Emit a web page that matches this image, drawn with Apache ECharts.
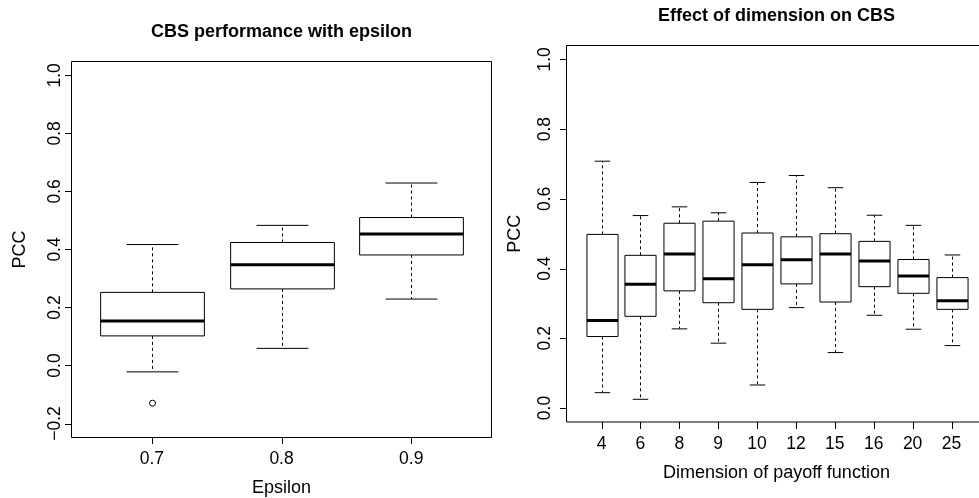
<!DOCTYPE html>
<html>
<head>
<meta charset="utf-8">
<script src="https://cdn.jsdelivr.net/npm/echarts@6/dist/echarts.min.js"></script>
<style>
html,body{margin:0;padding:0;background:#fff;overflow:hidden;}
#chart{width:979px;height:498px;}
</style>
</head>
<body>
<div id="chart"></div>
<script>
// ---- Left panel: CBS performance with epsilon ----
const epsCategories = ['0.7', '0.8', '0.9'];
const epsMin    = [-0.022, 0.059, 0.229];
const epsQ1     = [0.102, 0.264, 0.381];
const epsMedian = [0.153, 0.347, 0.453];
const epsQ3     = [0.252, 0.424, 0.510];
const epsMax    = [0.417, 0.483, 0.629];
const epsOutlierCat = [0];
const epsOutlierVal = [-0.13];
const epsYTicks = [-0.2, 0.0, 0.2, 0.4, 0.6, 0.8, 1.0];

// ---- Right panel: Effect of dimension on CBS ----
const dimCategories = ['4', '6', '8', '9', '10', '12', '15', '16', '20', '25'];
const dimMin    = [0.044, 0.025, 0.227, 0.186, 0.066, 0.288, 0.159, 0.266, 0.226, 0.179];
const dimQ1     = [0.205, 0.263, 0.336, 0.302, 0.283, 0.356, 0.304, 0.348, 0.329, 0.283];
const dimMedian = [0.251, 0.355, 0.442, 0.371, 0.411, 0.425, 0.442, 0.422, 0.379, 0.308];
const dimQ3     = [0.498, 0.438, 0.530, 0.536, 0.502, 0.491, 0.500, 0.478, 0.426, 0.374];
const dimMax    = [0.708, 0.552, 0.577, 0.560, 0.647, 0.667, 0.632, 0.553, 0.524, 0.439];
const dimYTicks = [0.0, 0.2, 0.4, 0.6, 0.8, 1.0];

// R-style extended plot ranges (4% beyond the tick range)
const epsXRange = [0.38, 3.62], epsYRange = [-0.248, 1.048];
const dimXRange = [0.1, 10.9],  dimYRange = [-0.04, 1.04];

const FONT = '"Liberation Sans", Arial, Helvetica, sans-serif';
const TICK_LEN = 7;

function boxData(mins, q1, med, q3, maxs) {
  return mins.map((m, i) => [i + 1, m, q1[i], med[i], q3[i], maxs[i]]);
}
function fmtNum(v) {
  return (Math.round(v * 10) / 10).toFixed(1).replace('-', '\u2212');
}
function renderBox(params, api) {
  const x = api.value(0);
  const lo = api.coord([x, api.value(1)]);
  const q1 = api.coord([x, api.value(2)]);
  const md = api.coord([x, api.value(3)]);
  const q3 = api.coord([x, api.value(4)]);
  const hi = api.coord([x, api.value(5)]);
  const bw = api.size([0.8, 0])[0];
  const cx = Math.round(lo[0]) + 0.5;
  const half = bw / 2, cap = bw / 4;
  const solid = {stroke: '#000', lineWidth: 1, fill: null};
  const dashed = {stroke: '#000', lineWidth: 1, lineDash: [3, 3], fill: null};
  return {
    type: 'group',
    children: [
      {type: 'line', shape: {x1: cx, y1: q3[1], x2: cx, y2: hi[1]}, style: dashed},
      {type: 'line', shape: {x1: cx, y1: q1[1], x2: cx, y2: lo[1]}, style: dashed},
      {type: 'line', shape: {x1: cx - cap, y1: hi[1], x2: cx + cap, y2: hi[1]}, style: solid},
      {type: 'line', shape: {x1: cx - cap, y1: lo[1], x2: cx + cap, y2: lo[1]}, style: solid},
      {type: 'rect', shape: {x: cx - half, y: q3[1], width: bw, height: q1[1] - q3[1]},
        style: {fill: '#fff', stroke: '#000', lineWidth: 1}},
      {type: 'line', shape: {x1: cx - half, y1: md[1], x2: cx + half, y2: md[1]},
        style: {stroke: '#000', lineWidth: 3}}
    ]
  };
}
function renderOutlier(params, api) {
  const p = api.coord([api.value(0), api.value(1)]);
  return {type: 'circle', shape: {cx: Math.round(p[0]) + 0.5, cy: p[1], r: 3},
    style: {fill: 'none', stroke: '#000', lineWidth: 1}};
}
// Tick marks: item = [xValue, yValue(inside extent), yOffsetSpan] for x ticks,
// [xValue(inside extent), yValue, xOffsetSpan] for y ticks; spans are converted by the axis scale.
function renderXTick(params, api) {
  const p = api.coord([api.value(0), api.value(1)]);
  const dy = api.size([0, api.value(2)])[1];
  const x = Math.round(p[0]) + 0.5, y = Math.round(p[1] + dy);
  return {type: 'line', shape: {x1: x, y1: y, x2: x, y2: y + TICK_LEN}, style: {stroke: '#000', lineWidth: 1}};
}
function renderYTick(params, api) {
  const p = api.coord([api.value(0), api.value(1)]);
  const dx = api.size([api.value(2), 0])[0];
  const x = Math.round(p[0] - dx), y = Math.round(p[1]) + 0.5;
  return {type: 'line', shape: {x1: x - TICK_LEN, y1: y, x2: x, y2: y}, style: {stroke: '#000', lineWidth: 1}};
}
function xTickData(cats, yTicks, yRange) {
  const yIn = yTicks[1];
  return cats.map((c, i) => [i + 1, yIn, yIn - yRange[0]]);
}
function yTickData(yTicks, xRange) {
  const xIn = 2;
  return yTicks.map(v => [xIn, v, xIn - xRange[0]]);
}

// Data grids span the tick ranges (labels/names); frame grids span R's extended plot region.
function xAxisCfg(gridIndex, cats, name, offset) {
  return {
    gridIndex, type: 'value', min: 1, max: cats.length, interval: 1, position: 'bottom', offset,
    name, nameLocation: 'middle', nameGap: 42, nameMoveOverlap: false,
    nameTextStyle: {fontSize: 18, color: '#000', fontFamily: FONT},
    axisLine: {show: false, onZero: false},
    splitLine: {show: false},
    axisTick: {show: false},
    axisLabel: {show: true, margin: 13, fontSize: 17.5, color: '#000', fontFamily: FONT,
      showMinLabel: true, showMaxLabel: true,
      formatter: v => cats[Math.round(v) - 1]}
  };
}
function yAxisCfg(gridIndex, ticks, offset, labelMargin) {
  return {
    gridIndex, type: 'value', min: ticks[0], max: ticks[ticks.length - 1], interval: 0.2, position: 'left', offset,
    name: 'PCC', nameLocation: 'middle', nameGap: 42, nameRotate: 90,
    nameTextStyle: {fontSize: 18, color: '#000', fontFamily: FONT},
    axisLine: {show: false, onZero: false},
    splitLine: {show: false},
    axisTick: {show: false},
    axisLabel: {show: true, rotate: 90, margin: labelMargin, fontSize: 17.5, color: '#000', fontFamily: FONT,
      showMinLabel: true, showMaxLabel: true,
      formatter: v => fmtNum(v)}
  };
}
const frameAxis = (idx, range) => ({gridIndex: idx, type: 'value', show: false, min: range[0], max: range[1],
  splitLine: {show: false}, axisLine: {onZero: false}});

const chart = echarts.init(document.getElementById('chart'), null, {renderer: 'canvas'});
chart.setOption({
  animation: false,
  backgroundColor: '#fff',
  graphic: [
    {type: 'text', x: 281.5, y: 32, style: {text: 'CBS performance with epsilon', align: 'center', verticalAlign: 'middle',
      font: 'bold 18px ' + FONT, fill: '#000'}},
    {type: 'text', x: 776.5, y: 16, style: {text: 'Effect of dimension on CBS', align: 'center', verticalAlign: 'middle',
      font: 'bold 18px ' + FONT, fill: '#000'}}
  ],
  grid: [
    // data grids (tick ranges)
    {left: 151.9, top: 75.4, width: 259.3, height: 348.1, show: false, containLabel: false, outerBoundsMode: 'none'},
    {left: 601.5, top: 59.4, width: 350, height: 348.6, show: false, containLabel: false, outerBoundsMode: 'none'},
    // frame grids (plot box)
    {left: 71.5, top: 61.5, width: 420, height: 376, show: true, borderColor: '#000', borderWidth: 1,
      backgroundColor: 'transparent', containLabel: false, outerBoundsMode: 'none'},
    {left: 566.5, top: 45.5, width: 420, height: 376.5, show: true, borderColor: '#000', borderWidth: 1,
      backgroundColor: 'transparent', containLabel: false, outerBoundsMode: 'none'}
  ],
  xAxis: [
    xAxisCfg(0, epsCategories, 'Epsilon', 14),
    xAxisCfg(1, dimCategories, 'Dimension of payoff function', 14),
    frameAxis(2, epsXRange), frameAxis(3, dimXRange)
  ],
  yAxis: [
    yAxisCfg(0, epsYTicks, 80.4, 7),
    yAxisCfg(1, dimYTicks, 35, 12),
    frameAxis(2, epsYRange), frameAxis(3, dimYRange)
  ],
  series: [
    {type: 'custom', xAxisIndex: 0, yAxisIndex: 0, renderItem: renderBox, clip: false,
      encode: {x: 0, y: [1, 2, 3, 4, 5]},
      data: boxData(epsMin, epsQ1, epsMedian, epsQ3, epsMax), z: 2},
    {type: 'custom', xAxisIndex: 0, yAxisIndex: 0, renderItem: renderOutlier, clip: false,
      encode: {x: 0, y: 1},
      data: epsOutlierCat.map((c, i) => [c + 1, epsOutlierVal[i]]), z: 3},
    {type: 'custom', xAxisIndex: 1, yAxisIndex: 1, renderItem: renderBox, clip: false,
      encode: {x: 0, y: [1, 2, 3, 4, 5]},
      data: boxData(dimMin, dimQ1, dimMedian, dimQ3, dimMax), z: 2},
    // tick marks (data values inside the axis extents, shifted to the frame edge by scale spans)
    {type: 'custom', xAxisIndex: 0, yAxisIndex: 0, renderItem: renderXTick, clip: false, silent: true, z: 5,
      encode: {x: 0, y: 1}, data: xTickData(epsCategories, epsYTicks, epsYRange)},
    {type: 'custom', xAxisIndex: 0, yAxisIndex: 0, renderItem: renderYTick, clip: false, silent: true, z: 5,
      encode: {x: 0, y: 1}, data: yTickData(epsYTicks, epsXRange)},
    {type: 'custom', xAxisIndex: 1, yAxisIndex: 1, renderItem: renderXTick, clip: false, silent: true, z: 5,
      encode: {x: 0, y: 1}, data: xTickData(dimCategories, dimYTicks, dimYRange)},
    {type: 'custom', xAxisIndex: 1, yAxisIndex: 1, renderItem: renderYTick, clip: false, silent: true, z: 5,
      encode: {x: 0, y: 1}, data: yTickData(dimYTicks, dimXRange)}
  ]
});
</script>
</body>
</html>
